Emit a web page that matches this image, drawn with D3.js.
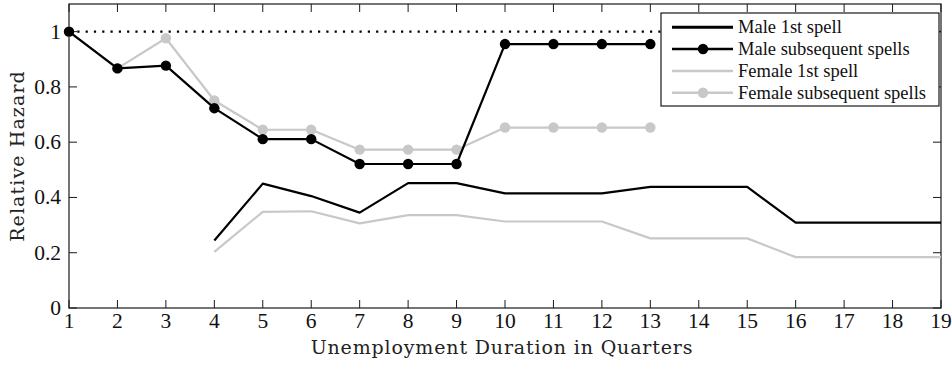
<!DOCTYPE html>
<html>
<head>
<meta charset="utf-8">
<script src="https://cdn.jsdelivr.net/npm/d3@7"></script>
<style>
  html, body { margin: 0; padding: 0; background: #fff; }
  svg { display: block; }
</style>
</head>
<body>
<svg id="chart" width="952" height="367"></svg>
<script>
// Quarters of unemployment duration
const quarters = d3.range(1, 20);

// Relative hazard estimates (null = not estimated for that quarter)
const maleFirst = [null, null, null, 0.244, 0.45, 0.405, 0.345, 0.452, 0.452, 0.415, 0.415, 0.415, 0.438, 0.438, 0.438, 0.309, 0.309, 0.309, 0.309];
const maleSubsequent = [1.0, 0.867, 0.877, 0.723, 0.611, 0.611, 0.521, 0.521, 0.521, 0.955, 0.955, 0.955, 0.955, null, null, null, null, null, null];
const femaleFirst = [null, null, null, 0.203, 0.348, 0.35, 0.306, 0.336, 0.336, 0.313, 0.313, 0.313, 0.252, 0.252, 0.252, 0.184, 0.184, 0.184, 0.184];
const femaleSubsequent = [1.0, 0.867, 0.976, 0.751, 0.645, 0.645, 0.573, 0.573, 0.573, 0.653, 0.653, 0.653, 0.653, null, null, null, null, null, null];

const yTicks = [0, 0.2, 0.4, 0.6, 0.8, 1];
const yTickLabels = ["0", "0.2", "0.4", "0.6", "0.8", "1"];

const seriesNames = ["Male 1st spell", "Male subsequent spells", "Female 1st spell", "Female subsequent spells"];
const seriesColors = ["#000000", "#000000", "#c8c8c8", "#c8c8c8"];
const seriesMarkers = [false, true, false, true];
const seriesValues = [maleFirst, maleSubsequent, femaleFirst, femaleSubsequent];

const svg = d3.select("#chart");
const plot = { left: 69, right: 941, top: 4, bottom: 308 };

const x = d3.scaleLinear().domain([1, 19]).range([plot.left, plot.right]);
const y = d3.scaleLinear().domain([0, 1.1]).range([plot.bottom, plot.top]);

const tickFont = "'Liberation Serif', 'Times New Roman', serif";
const labelFont = "'DejaVu Serif', serif";
const axisColor = "#1a1a1a";
const tickLen = 8;

// Axis box
svg.append("rect")
  .attr("x", plot.left).attr("y", plot.top)
  .attr("width", plot.right - plot.left).attr("height", plot.bottom - plot.top)
  .attr("fill", "none").attr("stroke", axisColor).attr("stroke-width", 1.2);

// Inward ticks on all four sides
const g = svg.append("g");
quarters.forEach(q => {
  g.append("line").attr("x1", x(q)).attr("x2", x(q)).attr("y1", plot.bottom).attr("y2", plot.bottom - tickLen)
    .attr("stroke", axisColor).attr("stroke-width", 1);
  g.append("line").attr("x1", x(q)).attr("x2", x(q)).attr("y1", plot.top).attr("y2", plot.top + tickLen)
    .attr("stroke", axisColor).attr("stroke-width", 1);
});
yTicks.forEach(v => {
  g.append("line").attr("x1", plot.left).attr("x2", plot.left + tickLen).attr("y1", y(v)).attr("y2", y(v))
    .attr("stroke", axisColor).attr("stroke-width", 1);
  g.append("line").attr("x1", plot.right).attr("x2", plot.right - tickLen).attr("y1", y(v)).attr("y2", y(v))
    .attr("stroke", axisColor).attr("stroke-width", 1);
});

// Tick labels
svg.append("g").selectAll("text").data(quarters).join("text")
  .attr("x", d => x(d)).attr("y", 328)
  .attr("text-anchor", "middle")
  .attr("font-family", tickFont).attr("font-size", 21.5).attr("fill", "#111")
  .text(d => d);

svg.append("g").selectAll("text").data(yTicks).join("text")
  .attr("x", 61).attr("y", d => y(d) + 7)
  .attr("text-anchor", "end")
  .attr("font-family", tickFont).attr("font-size", 21.5).attr("fill", "#111")
  .text((d, i) => yTickLabels[i]);

// Axis titles
svg.append("text")
  .attr("x", (plot.left + plot.right) / 2 - 3).attr("y", 354)
  .attr("text-anchor", "middle")
  .attr("font-family", labelFont).attr("font-size", 19).attr("fill", "#222")
  .attr("letter-spacing", 0.85)
  .text("Unemployment Duration in Quarters");

svg.append("text")
  .attr("transform", `translate(24, ${(plot.top + plot.bottom) / 2}) rotate(-90)`)
  .attr("text-anchor", "middle")
  .attr("font-family", labelFont).attr("font-size", 19).attr("fill", "#222")
  .attr("letter-spacing", 1.1)
  .text("Relative Hazard");

// Reference line at a relative hazard of 1
svg.append("line")
  .attr("x1", x(1)).attr("x2", x(19)).attr("y1", y(1)).attr("y2", y(1))
  .attr("stroke", "#000").attr("stroke-width", 2.2).attr("stroke-dasharray", "2.2,6.1");

// Series lines and markers (female first so male lines sit on top)
const line = d3.line()
  .defined(d => d.v !== null)
  .x(d => x(d.q)).y(d => y(d.v));

const order = [2, 3, 0, 1];
order.forEach(i => {
  const pts = quarters.map((q, k) => ({ q, v: seriesValues[i][k] }));
  svg.append("path").datum(pts)
    .attr("d", line)
    .attr("fill", "none").attr("stroke", seriesColors[i]).attr("stroke-width", 2.2)
    .attr("stroke-linejoin", "round");
  if (seriesMarkers[i]) {
    svg.append("g").selectAll("circle").data(pts.filter(d => d.v !== null)).join("circle")
      .attr("cx", d => x(d.q)).attr("cy", d => y(d.v)).attr("r", 5.2)
      .attr("fill", seriesColors[i]);
  }
});

// Legend
const lg = svg.append("g");
lg.append("rect")
  .attr("x", 661).attr("y", 13).attr("width", 278).attr("height", 93)
  .attr("fill", "#fff").attr("stroke", axisColor).attr("stroke-width", 1.2);
const rowY = [27.3, 49, 71, 92.7];
seriesNames.forEach((name, i) => {
  lg.append("line")
    .attr("x1", 672).attr("x2", 733).attr("y1", rowY[i]).attr("y2", rowY[i])
    .attr("stroke", seriesColors[i]).attr("stroke-width", i === 0 ? 3 : 2.4);
  if (seriesMarkers[i]) {
    lg.append("circle").attr("cx", 703).attr("cy", rowY[i]).attr("r", 5.2).attr("fill", seriesColors[i]);
  }
  lg.append("text")
    .attr("x", 738).attr("y", rowY[i] + 6)
    .attr("font-family", tickFont).attr("font-size", 18.5).attr("fill", "#111")
    .text(name);
});
</script>
</body>
</html>
